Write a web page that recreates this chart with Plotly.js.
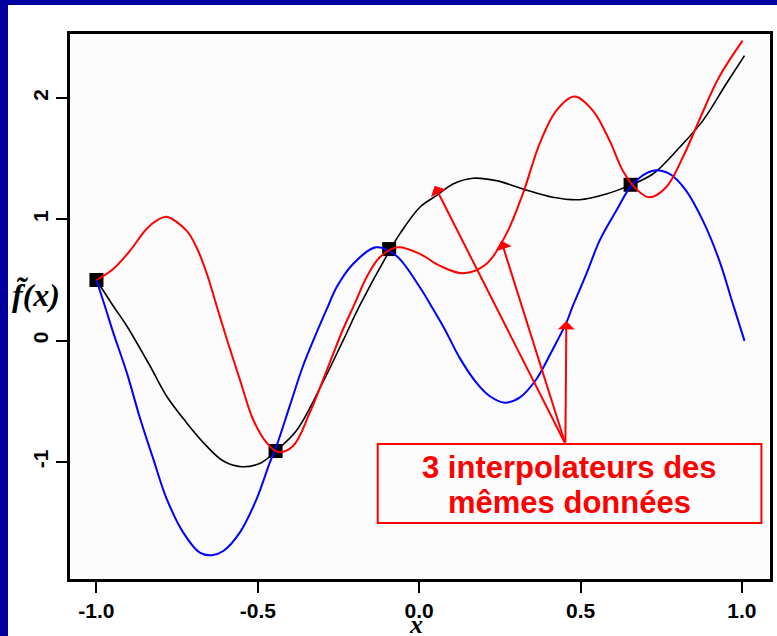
<!DOCTYPE html>
<html>
<head>
<meta charset="utf-8">
<script src="https://cdn.plot.ly/plotly-3.0.1.min.js"></script>
<style>
  html, body { margin: 0; padding: 0; background: #0000a0; width: 777px; height: 636px; overflow: hidden; }
  #chart { position: absolute; left: 8px; top: 5px; width: 769px; height: 631px; background: #ffffff; }
</style>
</head>
<body>
<div id="chart"></div>
<script>
// Data points (black squares)
const dataX = [-1.0, -0.445, -0.093, 0.655];
const dataY = [0.5, -0.91, 0.755, 1.285];

// Black interpolator
const blackX = [-1.0, -0.948, -0.906, -0.834, -0.783, -0.721, -0.659, -0.607, -0.550, -0.489, -0.447, -0.380, -0.298, -0.236, -0.184, -0.091, -0.060, 0.002, 0.053, 0.105, 0.167, 0.239, 0.321, 0.414, 0.497, 0.580, 0.652, 0.724, 0.807, 0.879, 0.951, 1.008];
const blackY = [0.50, 0.286, 0.121, -0.209, -0.456, -0.676, -0.868, -0.992, -1.039, -1.006, -0.915, -0.740, -0.340, 0.000, 0.290, 0.745, 0.880, 1.100, 1.195, 1.292, 1.339, 1.319, 1.251, 1.182, 1.162, 1.209, 1.280, 1.374, 1.594, 1.814, 2.116, 2.350];

// Blue interpolator
const blueX = [-1.0, -0.974, -0.948, -0.906, -0.865, -0.824, -0.783, -0.731, -0.680, -0.643, -0.607, -0.556, -0.504, -0.463, -0.442, -0.401, -0.360, -0.318, -0.282, -0.256, -0.205, -0.133, -0.071, 0.002, 0.043, 0.084, 0.125, 0.177, 0.218, 0.265, 0.311, 0.363, 0.414, 0.456, 0.476, 0.518, 0.559, 0.611, 0.662, 0.724, 0.776, 0.827, 0.879, 0.930, 0.972, 1.008];
const blueY = [0.50, 0.286, 0.066, -0.264, -0.640, -0.975, -1.300, -1.583, -1.748, -1.769, -1.734, -1.583, -1.307, -1.006, -0.868, -0.538, -0.209, 0.066, 0.286, 0.440, 0.632, 0.770, 0.700, 0.440, 0.260, 0.070, -0.140, -0.346, -0.456, -0.511, -0.470, -0.318, -0.071, 0.148, 0.286, 0.550, 0.824, 1.072, 1.292, 1.401, 1.374, 1.237, 0.989, 0.660, 0.303, -0.002];

// Red interpolator
const redX = [-1.0, -0.948, -0.896, -0.845, -0.810, -0.783, -0.721, -0.690, -0.659, -0.628, -0.597, -0.556, -0.515, -0.473, -0.437, -0.391, -0.339, -0.277, -0.236, -0.200, -0.163, -0.122, -0.066, 0.002, 0.063, 0.136, 0.208, 0.270, 0.321, 0.373, 0.425, 0.481, 0.538, 0.590, 0.631, 0.672, 0.713, 0.765, 0.817, 0.867, 0.929, 1.002];
const redY = [0.50, 0.591, 0.742, 0.921, 0.995, 1.022, 0.907, 0.770, 0.560, 0.290, 0.020, -0.318, -0.648, -0.841, -0.918, -0.868, -0.594, -0.181, 0.094, 0.303, 0.523, 0.688, 0.770, 0.715, 0.618, 0.556, 0.632, 0.880, 1.209, 1.622, 1.896, 2.012, 1.896, 1.649, 1.401, 1.251, 1.182, 1.265, 1.512, 1.814, 2.171, 2.473];

// Tick labels
const xTickVals = [-1.0, -0.5, 0.0, 0.5, 1.0];
const xTickText = ['-1.0', '-0.5', '0.0', '0.5', '1.0'];
const yTickVals = [-1, 0, 1, 2];
const yTickText = ['-1', '0', '1', '2'];

// Arrow annotation: shared tail and three heads
const arrowTail = [0.453, -0.852];
const arrowHeadsX = [0.048, 0.254, 0.456];
const arrowHeadsY = [1.277, 0.824, 0.162];
const boxLines = ['3 interpolateurs des', 'mêmes données'];
const boxLineY = [-1.045, -1.332];
const boxCenterX = 0.466;
const boxEdges = { x0: -0.1285, x1: 1.0604, y0: -0.852, y1: -1.503 };

const traces = [
  { x: dataX, y: dataY, mode: 'markers', type: 'scatter',
    marker: { symbol: 'square', size: 14, color: '#000000' }, hoverinfo: 'skip' },
  { x: blackX, y: blackY, mode: 'lines', type: 'scatter',
    line: { color: '#000000', width: 1.6, shape: 'spline', smoothing: 1 } },
  { x: blueX, y: blueY, mode: 'lines', type: 'scatter',
    line: { color: '#0000ff', width: 2, shape: 'spline', smoothing: 1 } },
  { x: redX, y: redY, mode: 'lines', type: 'scatter',
    line: { color: '#ff0000', width: 2, shape: 'spline', smoothing: 1 } }
];

const annotations = [];
for (let i = 0; i < arrowHeadsX.length; i++) {
  annotations.push({
    x: arrowHeadsX[i], y: arrowHeadsY[i], xref: 'x', yref: 'y',
    ax: arrowTail[0], ay: arrowTail[1], axref: 'x', ayref: 'y',
    text: '', showarrow: true, arrowhead: 1, arrowsize: 1.4, arrowwidth: 2,
    arrowcolor: '#ff0000', standoff: 0, startstandoff: 0
  });
}
for (let i = 0; i < boxLines.length; i++) {
  annotations.push({
    x: boxCenterX, y: boxLineY[i], xref: 'x', yref: 'y', xanchor: 'center', yanchor: 'middle',
    text: boxLines[i], showarrow: false,
    font: { family: 'Liberation Sans, Arial, sans-serif', size: 31, color: '#ff0000', weight: 'bold' }
  });
}
annotations.push({
  x: -0.0486, y: 0.521, xref: 'paper', yref: 'paper', xanchor: 'center', yanchor: 'middle',
  text: 'f\u0303(x)', showarrow: false,
  font: { family: 'Liberation Serif, Times New Roman, serif', size: 32, color: '#000000', style: 'italic', weight: 'bold' }
});
annotations.push({
  x: 0.494, y: -0.083, xref: 'paper', yref: 'paper', xanchor: 'center', yanchor: 'middle',
  text: 'x', showarrow: false,
  font: { family: 'Liberation Serif, Times New Roman, serif', size: 26, color: '#000000', style: 'italic', weight: 'bold' }
});

const tickFont = { family: 'Liberation Sans, Arial, sans-serif', size: 21, color: '#000000', weight: 'bold' };

const layout = {
  width: 769, height: 631,
  margin: { l: 62, r: 7, t: 29, b: 57, pad: 0 },
  paper_bgcolor: '#ffffff',
  plot_bgcolor: '#fcfcfc',
  showlegend: false,
  xaxis: {
    range: [-1.082, 1.087], tickvals: xTickVals, ticktext: xTickText,
    showline: true, linewidth: 3, linecolor: '#000000', mirror: true,
    ticks: 'outside', ticklen: 11, tickwidth: 2, tickcolor: '#000000',
    showgrid: false, zeroline: false, tickfont: tickFont
  },
  yaxis: {
    range: [-1.965, 2.528], tickvals: yTickVals, ticktext: yTickText,
    showline: true, linewidth: 3, linecolor: '#000000', mirror: true,
    ticks: 'outside', ticklen: 11, tickwidth: 2, tickcolor: '#000000',
    showgrid: false, zeroline: false, tickfont: tickFont, tickangle: -90
  },
  shapes: [{
    type: 'rect', xref: 'x', yref: 'y',
    x0: boxEdges.x0, x1: boxEdges.x1, y0: boxEdges.y0, y1: boxEdges.y1,
    line: { color: '#ff0000', width: 2 }, fillcolor: 'rgba(0,0,0,0)'
  }],
  annotations: annotations
};

Plotly.newPlot('chart', traces, layout, { staticPlot: true, displayModeBar: false });
</script>
</body>
</html>
